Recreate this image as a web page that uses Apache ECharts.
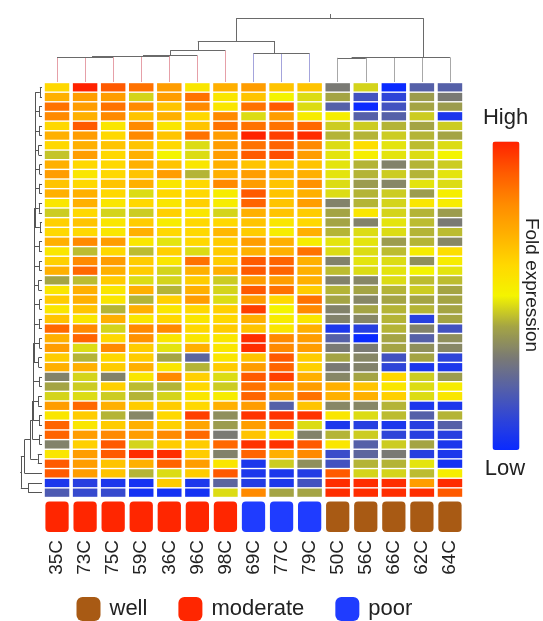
<!DOCTYPE html>
<html>
<head>
<meta charset="utf-8">
<script src="https://cdn.jsdelivr.net/npm/echarts@6/dist/echarts.min.js"></script>
<style>
  html, body { margin: 0; padding: 0; background: #fff; }
  #chart { width: 543px; height: 621px; }
</style>
</head>
<body>
<div id="chart"></div>
<script>
var font = 'Liberation Sans, Arial, sans-serif'

// sample columns, left to right, and their grade
var colNames = ['35C', '73C', '75C', '59C', '36C', '96C', '98C', '69C', '77C', '79C', '50C', '56C', '66C', '62C', '64C']
var colGroups = ['moderate', 'moderate', 'moderate', 'moderate', 'moderate', 'moderate', 'moderate',
  'poor', 'poor', 'poor', 'well', 'well', 'well', 'well', 'well']
var groupNames = ['well', 'moderate', 'poor']
var groupColors = { well: '#a85a14', moderate: '#ff2600', poor: '#1f3cff' }
var branchColors = { well: '#a8a8a8', moderate: '#e6a0a8', poor: '#a4a4dc' }

// fold expression, 0 = low ... 10 = high, one row per gene (top to bottom)
var expr = [
  [6, 10, 9, 8.5, 7.5, 5.5, 7, 7.5, 6.5, 6.5, 3, 4.6, 0, 2, 2],
  [7, 7.5, 7.5, 4.6, 7.5, 8.5, 5.5, 6.5, 5, 4.7, 4, 1.5, 1, 3.8, 3],
  [8.5, 7.5, 8.5, 8, 6.5, 8, 5.5, 8.5, 9, 4.7, 2, 0, 1.5, 4, 3.8],
  [8, 7, 8, 6.5, 7, 6, 8, 4.7, 7.5, 5.3, 5.2, 2, 2, 4.5, 0.5],
  [6, 9, 5.5, 8, 5.5, 6.5, 8.5, 8.5, 8.5, 8.7, 4.5, 4.5, 4.2, 4, 4.5],
  [7, 7.5, 6, 8, 6.5, 8.5, 7.5, 10, 9.5, 9.8, 4.2, 4.2, 4.5, 4.2, 4],
  [6, 7, 6.5, 6.5, 6, 4.7, 7.5, 8.5, 8.8, 8, 4.7, 5.8, 4.8, 4.3, 4.7],
  [4.4, 7.5, 6, 7, 5, 4.7, 7.5, 9, 9.2, 7.5, 4.8, 5.2, 4.8, 4.7, 5],
  [7, 6, 6, 7, 6.5, 5.5, 7, 6.5, 6.5, 6.5, 4.8, 4.2, 3.2, 4.2, 4.5],
  [7.5, 5.5, 6, 6.5, 7.5, 4.2, 7, 7.5, 7, 7, 4.8, 4.2, 4.5, 4.2, 4.8],
  [6.5, 6, 6.5, 7, 5.5, 6, 8, 7.5, 6.5, 7.8, 4.7, 3.8, 3.3, 4.8, 4.7],
  [7, 7, 6, 4.7, 6, 6, 5.3, 9, 6.5, 7, 4.7, 4.2, 4.5, 3.8, 5.2],
  [5.5, 7, 5.5, 6, 5.5, 6.2, 5.3, 8.8, 6.5, 7.5, 3.2, 4.2, 4.6, 5.5, 5.3],
  [4.5, 6, 4.6, 4.5, 6.2, 5.5, 4.6, 7, 6.5, 6.3, 4, 5.5, 4.6, 4.2, 3.8],
  [6.2, 6.5, 5.5, 6.3, 5.3, 6, 6, 6.5, 5.5, 6, 4, 3.2, 4.8, 4.3, 3],
  [6, 6, 5.5, 7, 6, 6, 6.8, 6.3, 5.3, 7, 4.2, 4.7, 4.7, 4.2, 4.3],
  [7, 8, 7.5, 5.5, 4.8, 6, 6.3, 7.5, 7, 5.3, 4.8, 4.8, 3.8, 4.2, 3.3],
  [5.5, 4.3, 6, 4.3, 6.2, 4.7, 6.3, 7, 7, 8.5, 4.7, 4.7, 4.3, 5.3, 5.8],
  [6.2, 8, 7.5, 6.3, 5.5, 8.5, 6.3, 9, 8.8, 7, 3.2, 4.8, 4.7, 3.5, 5.3],
  [7, 8.7, 7, 6.3, 4.6, 7, 7, 9, 8.8, 7, 4.3, 4.7, 4.8, 5, 4.8],
  [4, 4.3, 6.3, 4.7, 4.6, 6.3, 4.5, 7.5, 7.5, 7, 3.2, 3.3, 4.7, 4.3, 4.3],
  [5.5, 7, 5.5, 7, 4.2, 7, 4.6, 9, 8.5, 6.3, 4.2, 4, 4.2, 4.5, 4],
  [6.3, 7, 5.5, 4.2, 6.2, 7.5, 4.7, 7.5, 6, 8.5, 4, 3.3, 4, 4, 4],
  [5.5, 6.5, 4.2, 7, 5.5, 6, 6.2, 9.5, 5, 8, 3.2, 4, 4.2, 4.2, 4],
  [6.5, 5.5, 7, 5.5, 6, 5.5, 6, 7, 5.3, 5.5, 3.2, 3.3, 4.2, 0.8, 4],
  [8.7, 8, 4.6, 8, 8, 6, 6.3, 6.5, 5.5, 7, 0.5, 0.8, 4.2, 3.2, 1.5],
  [7, 8.8, 6, 7.8, 5.5, 5.5, 5.5, 9.8, 8, 7.5, 2, 0, 4, 2, 3.5],
  [7.5, 4.7, 8, 6.3, 4.8, 7, 5.5, 9.8, 8, 7.5, 3, 3, 4, 3.5, 3.3],
  [6.3, 4.2, 6, 6.3, 4, 2.2, 5.5, 6.5, 9, 6.3, 4, 3.3, 1.5, 4, 1],
  [7, 7, 6.3, 7, 5.5, 4.2, 6.3, 7.5, 8.8, 6.2, 3, 3.2, 1, 0.5, 0.5],
  [3.2, 4.6, 3.2, 5.5, 8, 6.2, 4.7, 9, 9.5, 7, 3.3, 4, 6, 4.5, 3.8],
  [4, 4.5, 6.2, 4.3, 4.2, 6, 4.5, 8.5, 7.5, 7.5, 7, 6.5, 5.5, 4.7, 5.3],
  [4.6, 4.7, 4.5, 4.2, 4.6, 5.5, 5.3, 8.8, 7.5, 8.5, 7, 7, 6.2, 4.7, 5.5],
  [7.5, 8.7, 7, 6.3, 6.3, 6, 7, 7.5, 2, 6.5, 3.3, 3.3, 4.2, 0.5, 0.5],
  [5.5, 6.3, 4.2, 3.3, 6, 9.5, 3.5, 9.7, 9.7, 9.7, 5.5, 4.7, 4.3, 2, 4.2],
  [8.8, 5.5, 6.3, 7, 6.2, 7.3, 3.8, 7.5, 9, 4.7, 0.5, 0.8, 0.5, 0.8, 2],
  [8.8, 7.5, 8, 7.5, 8, 8.7, 3, 6.5, 5.5, 3.2, 4.2, 4.5, 1, 0.8, 0.8],
  [3.2, 6.2, 9, 4.6, 6.3, 6.3, 8.7, 9.7, 9.7, 9, 5.5, 2, 4.5, 4, 0.5],
  [5.5, 7.5, 9, 9.8, 9.8, 6.3, 3.2, 8.8, 7, 8, 1.3, 2.2, 3, 0.8, 0.5],
  [9, 7.5, 6.5, 7, 8.8, 7.5, 5.5, 0.5, 4.5, 3.5, 1.5, 4.2, 4.2, 4.8, 0.3],
  [9, 7.5, 6.5, 4.2, 4.7, 6.3, 9, 0.5, 0.5, 0.7, 9, 4.6, 4.6, 4.3, 5.2],
  [0.5, 0.8, 0.5, 0.3, 6.3, 0.5, 2.2, 0.7, 0.5, 1.5, 9.8, 9.8, 9.8, 7.5, 9.8],
  [1.8, 1.2, 1.2, 0.3, 0.3, 0.3, 4.7, 8, 4, 4, 9.8, 9.8, 9.8, 9.8, 9]
]

// colour ramp, low -> high
var rampColors = ['#0a2aff', '#2e44d8', '#5560a8', '#7a7a74', '#a4a444', '#f4f400',
  '#ffd800', '#ffb000', '#ff8a00', '#ff5a00', '#ff2200']
var rampText = ['High', 'Low']

// hclust style merges: negative = leaf (1-based), positive = earlier merge, then height
var colMerge = [
  [-1, -2, 24.3], [1, -3, 24.7], [2, -4, 25.7], [3, -5, 26], [4, -6, 26.3], [5, -7, 31.3],
  [-9, -10, 28.3], [-8, 7, 28.7], [6, 8, 41],
  [-11, -12, 24.2], [10, -13, 24.3], [11, -14, 24.5], [12, -15, 24.7],
  [9, 13, 63.7]
]
var rowMerge = [
  [-1, -2, .10], [-3, -4, .14], [-5, -6, .12], [-7, -8, .16], [-9, -10, .11],
  [-11, -12, .13], [-13, -14, .15], [-15, -16, .10], [-17, -18, .14], [-19, -20, .12],
  [-21, -22, .17], [-23, -24, .11], [-25, -26, .15], [-27, -28, .12], [-29, -30, .16],
  [-31, -32, .13], [-33, -34, .18], [-35, -36, .14], [-37, -38, .12], [-39, -40, .20],
  [1, 2, .30], [21, 3, .31], [22, 4, .32], [23, 5, .32], [24, 6, .33], [25, 7, .34],
  [26, 8, .34], [27, 9, .35], [28, 10, .36], [29, 11, .36], [30, 12, .37], [31, 13, .38],
  [32, 14, .38], [33, 15, .39], [34, 16, .40], [35, 17, .41], [36, 18, .42], [37, 19, .44],
  [38, 20, .55], [39, -41, .82], [-42, -43, .65], [40, 41, 1.0]
]

function dendroLines (merge, leafColor, lineColor, flip, top) {
  var pos = [], hgt = [], out = []
  function node (k) {
    return k < 0 ? { p: -k - 0.5, h: 0, leaf: -k - 1 } : { p: pos[k - 1], h: hgt[k - 1], leaf: -1 }
  }
  function add (p1, h1, p2, h2, color) {
    var a = flip ? [h1, p1] : [p1, h1]
    var b = flip ? [h2, p2] : [p2, h2]
    out.push({ coords: [a, b], lineStyle: { color: color } })
  }
  merge.forEach(function (m) {
    var a = node(m[0]), b = node(m[1]), h = m[2]
    ;[a, b].forEach(function (c) {
      add(c.p, c.h, c.p, h, c.leaf >= 0 ? leafColor(c.leaf) : lineColor)
    })
    add(a.p, h, b.p, h, lineColor)
    pos.push((a.p + b.p) / 2)
    hgt.push(h)
  })
  // root stem
  add(pos[pos.length - 1], hgt[hgt.length - 1], pos[pos.length - 1], top, lineColor)
  return out
}

var cells = []
expr.forEach(function (row, ri) {
  row.forEach(function (v, ci) { cells.push([ci, ri, v]) })
})
var rowIds = expr.map(function (r, i) { return String(i + 1) })

var chart = echarts.init(document.getElementById('chart'))

var annotSeries = groupNames.map(function (g) {
  var d = []
  colGroups.forEach(function (cg, ci) { if (cg === g) d.push([ci, 0]) })
  return {
    type: 'custom', name: g, xAxisIndex: 1, yAxisIndex: 1,
    itemStyle: { color: groupColors[g] },
    encode: { x: 0, y: 1 },
    data: d,
    renderItem: function (params, api) {
      var p = api.coord([api.value(0), 0])
      var s = api.size([1, 1])
      return {
        type: 'rect',
        shape: { x: p[0] - s[0] / 2 + 2.4, y: p[1] - s[1] / 2, width: s[0] - 4.8, height: s[1], r: 4 },
        style: { fill: api.visual('color') }
      }
    }
  }
})

var option = {
  backgroundColor: '#fff',
  animation: false,
  textStyle: { fontFamily: font },
  grid: [
    { left: 43, top: 82.5, width: 421, height: 415 },
    { left: 43, top: 501.5, width: 421, height: 30.5 },
    { left: 43, top: 14, width: 421, height: 68 },
    { left: 20, top: 82.5, width: 22, height: 415 }
  ],
  xAxis: [
    { type: 'category', data: colNames, gridIndex: 0, show: false },
    {
      type: 'category', data: colNames, gridIndex: 1,
      axisLine: { show: false }, axisTick: { show: false },
      axisLabel: { rotate: 90, margin: 8, fontSize: 19, color: '#222', fontFamily: font, interval: 0 }
    },
    { type: 'value', min: 0, max: 15, gridIndex: 2, show: false },
    { type: 'value', min: 0, max: 1.04, inverse: true, gridIndex: 3, show: false }
  ],
  yAxis: [
    { type: 'category', data: rowIds, inverse: true, gridIndex: 0, show: false },
    { type: 'category', data: ['grade'], gridIndex: 1, show: false },
    { type: 'value', min: 0, max: 68, gridIndex: 2, show: false },
    { type: 'value', min: 0, max: 43, inverse: true, gridIndex: 3, show: false }
  ],
  visualMap: {
    type: 'continuous', min: 0, max: 10, seriesIndex: 0, dimension: 2,
    calculable: false, orient: 'vertical', left: 492.5, top: 141.5, padding: 0,
    itemWidth: 27, itemHeight: 308.5, showLabel: false,
    inRange: { color: rampColors }
  },
  legend: {
    data: groupNames, left: 76.5, top: 597, padding: 0, icon: 'roundRect',
    itemWidth: 24, itemHeight: 24, itemGap: 31,
    textStyle: { fontSize: 22, color: '#222', fontFamily: font, padding: [0, 0, 0, 4] }
  },
  graphic: [
    {
      type: 'text', x: 531, y: 285, rotation: -Math.PI / 2, z: 100,
      style: {
        text: 'Fold expression', fontSize: 19, fontFamily: font, fill: '#222',
        textAlign: 'center', textVerticalAlign: 'middle'
      }
    },
    {
      type: 'text', x: 505.5, y: 118,
      style: { text: rampText[0], fontSize: 22, fontFamily: font, fill: '#222', textAlign: 'center', textVerticalAlign: 'middle' }
    },
    {
      type: 'text', x: 505, y: 469,
      style: { text: rampText[1], fontSize: 22, fontFamily: font, fill: '#222', textAlign: 'center', textVerticalAlign: 'middle' }
    }
  ],
  series: [
    {
      type: 'custom', name: 'expression', xAxisIndex: 0, yAxisIndex: 0,
      encode: { x: 0, y: 1 },
      data: cells,
      renderItem: function (params, api) {
        var p = api.coord([api.value(0), api.value(1)])
        var s = api.size([1, 1])
        return {
          type: 'rect',
          shape: { x: p[0] - s[0] / 2 + 1.8, y: p[1] - s[1] / 2 + 0.7, width: s[0] - 3.6, height: s[1] - 1.4 },
          style: { fill: api.visual('color') }
        }
      }
    },
    {
      type: 'lines', coordinateSystem: 'cartesian2d', xAxisIndex: 2, yAxisIndex: 2,
      silent: true, lineStyle: { width: 1, opacity: 1 },
      data: dendroLines(colMerge, function (i) { return branchColors[colGroups[i]] }, '#6a6a6a', false, 68)
    },
    {
      type: 'lines', coordinateSystem: 'cartesian2d', xAxisIndex: 3, yAxisIndex: 3,
      silent: true, lineStyle: { width: 1, opacity: 1 },
      data: dendroLines(rowMerge, function () { return '#555' }, '#555', true, 1.04)
    }
  ].concat(annotSeries)
}

chart.setOption(option)
</script>
</body>
</html>
